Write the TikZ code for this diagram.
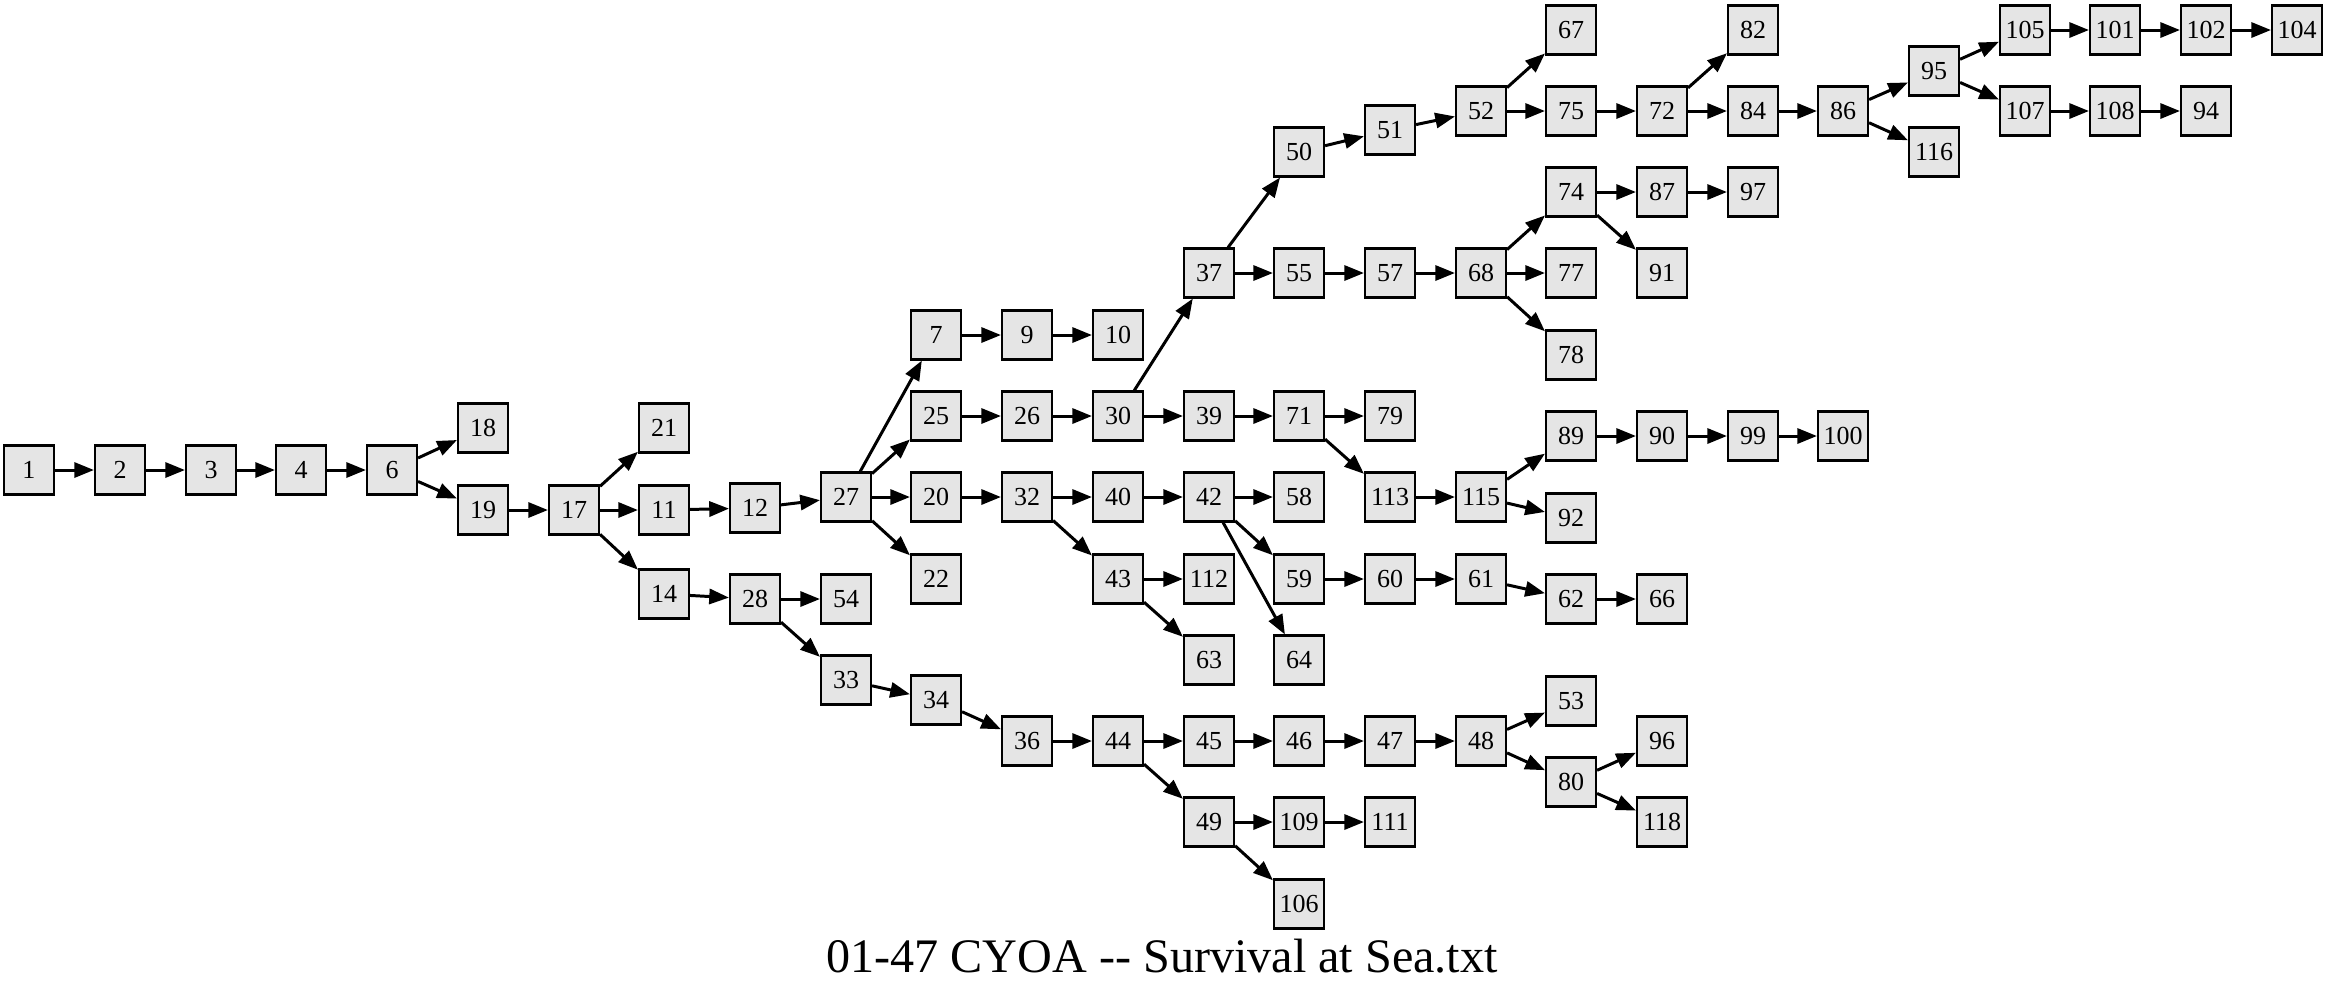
\documentclass[tikz,border=0pt]{standalone}
\usepackage{fontspec}
\setmainfont{Liberation Serif}
\usetikzlibrary{arrows.meta}

\begin{document}
\begin{tikzpicture}[
        box/.style={draw, line width=0.6pt, fill=black!10, minimum width=0.5cm, minimum height=0.49cm, inner sep=0pt, font=\fontsize{7.4}{8}\selectfont},
        link/.style={-{Triangle[length=5.6pt,width=4.3pt]}, line width=0.85pt}
    ]
        \useasboundingbox (0,0) rectangle (23.25,-9.92);
        \node[box] (n1) at (0.29,-4.70) {1};
        \node[box] (n2) at (1.20,-4.70) {2};
        \node[box] (n3) at (2.11,-4.70) {3};
        \node[box] (n4) at (3.01,-4.70) {4};
        \node[box] (n6) at (3.92,-4.70) {6};
        \node[box] (n18) at (4.83,-4.28) {18};
        \node[box] (n19) at (4.83,-5.10) {19};
        \node[box] (n17) at (5.74,-5.10) {17};
        \node[box] (n21) at (6.64,-4.28) {21};
        \node[box] (n11) at (6.64,-5.10) {11};
        \node[box] (n14) at (6.64,-5.94) {14};
        \node[box] (n12) at (7.55,-5.08) {12};
        \node[box] (n28) at (7.55,-5.99) {28};
        \node[box] (n27) at (8.46,-4.97) {27};
        \node[box] (n54) at (8.46,-5.99) {54};
        \node[box] (n33) at (8.46,-6.80) {33};
        \node[box] (n7) at (9.36,-3.35) {7};
        \node[box] (n25) at (9.36,-4.16) {25};
        \node[box] (n20) at (9.36,-4.97) {20};
        \node[box] (n22) at (9.36,-5.79) {22};
        \node[box] (n34) at (9.36,-7.00) {34};
        \node[box] (n9) at (10.27,-3.35) {9};
        \node[box] (n26) at (10.27,-4.16) {26};
        \node[box] (n32) at (10.27,-4.97) {32};
        \node[box] (n36) at (10.27,-7.41) {36};
        \node[box] (n10) at (11.18,-3.35) {10};
        \node[box] (n30) at (11.18,-4.16) {30};
        \node[box] (n40) at (11.18,-4.97) {40};
        \node[box] (n43) at (11.18,-5.79) {43};
        \node[box] (n44) at (11.18,-7.41) {44};
        \node[box] (n37) at (12.09,-2.73) {37};
        \node[box] (n39) at (12.09,-4.16) {39};
        \node[box] (n42) at (12.09,-4.97) {42};
        \node[box] (n112) at (12.09,-5.79) {112};
        \node[box] (n63) at (12.09,-6.60) {63};
        \node[box] (n45) at (12.09,-7.41) {45};
        \node[box] (n49) at (12.09,-8.22) {49};
        \node[box] (n50) at (12.99,-1.52) {50};
        \node[box] (n55) at (12.99,-2.73) {55};
        \node[box] (n71) at (12.99,-4.16) {71};
        \node[box] (n58) at (12.99,-4.97) {58};
        \node[box] (n59) at (12.99,-5.79) {59};
        \node[box] (n64) at (12.99,-6.60) {64};
        \node[box] (n46) at (12.99,-7.41) {46};
        \node[box] (n109) at (12.99,-8.22) {109};
        \node[box] (n106) at (12.99,-9.04) {106};
        \node[box] (n51) at (13.90,-1.30) {51};
        \node[box] (n57) at (13.90,-2.73) {57};
        \node[box] (n79) at (13.90,-4.16) {79};
        \node[box] (n113) at (13.90,-4.97) {113};
        \node[box] (n60) at (13.90,-5.79) {60};
        \node[box] (n47) at (13.90,-7.41) {47};
        \node[box] (n111) at (13.90,-8.22) {111};
        \node[box] (n52) at (14.81,-1.11) {52};
        \node[box] (n68) at (14.81,-2.73) {68};
        \node[box] (n115) at (14.81,-4.97) {115};
        \node[box] (n61) at (14.81,-5.79) {61};
        \node[box] (n48) at (14.81,-7.41) {48};
        \node[box] (n67) at (15.71,-0.30) {67};
        \node[box] (n75) at (15.71,-1.11) {75};
        \node[box] (n74) at (15.71,-1.92) {74};
        \node[box] (n77) at (15.71,-2.73) {77};
        \node[box] (n78) at (15.71,-3.55) {78};
        \node[box] (n89) at (15.71,-4.36) {89};
        \node[box] (n92) at (15.71,-5.18) {92};
        \node[box] (n62) at (15.71,-5.99) {62};
        \node[box] (n53) at (15.71,-7.01) {53};
        \node[box] (n80) at (15.71,-7.82) {80};
        \node[box] (n72) at (16.62,-1.11) {72};
        \node[box] (n87) at (16.62,-1.92) {87};
        \node[box] (n91) at (16.62,-2.73) {91};
        \node[box] (n90) at (16.62,-4.36) {90};
        \node[box] (n66) at (16.62,-5.99) {66};
        \node[box] (n96) at (16.62,-7.41) {96};
        \node[box] (n118) at (16.62,-8.22) {118};
        \node[box] (n82) at (17.53,-0.30) {82};
        \node[box] (n84) at (17.53,-1.11) {84};
        \node[box] (n97) at (17.53,-1.92) {97};
        \node[box] (n99) at (17.53,-4.36) {99};
        \node[box] (n86) at (18.43,-1.11) {86};
        \node[box] (n100) at (18.43,-4.36) {100};
        \node[box] (n95) at (19.34,-0.71) {95};
        \node[box] (n116) at (19.34,-1.52) {116};
        \node[box] (n105) at (20.25,-0.30) {105};
        \node[box] (n107) at (20.25,-1.11) {107};
        \node[box] (n101) at (21.15,-0.30) {101};
        \node[box] (n108) at (21.15,-1.11) {108};
        \node[box] (n102) at (22.06,-0.30) {102};
        \node[box] (n94) at (22.06,-1.11) {94};
        \node[box] (n104) at (22.97,-0.30) {104};
        \draw[link] (n1) to (n2);
        \draw[link] (n2) to (n3);
        \draw[link] (n3) to (n4);
        \draw[link] (n4) to (n6);
        \draw[link] (n6) to (n18);
        \draw[link] (n6) to (n19);
        \draw[link] (n19) to (n17);
        \draw[link] (n17) to (n21);
        \draw[link] (n17) to (n11);
        \draw[link] (n17) to (n14);
        \draw[link] (n11) to (n12);
        \draw[link] (n12) to (n27);
        \draw[link] (n14) to (n28);
        \draw[link] (n28) to (n54);
        \draw[link] (n28) to (n33);
        \draw[link] (n33) to (n34);
        \draw[link] (n34) to (n36);
        \draw[link] (n27) to (n7);
        \draw[link] (n27) to (n25);
        \draw[link] (n27) to (n20);
        \draw[link] (n27) to (n22);
        \draw[link] (n7) to (n9);
        \draw[link] (n9) to (n10);
        \draw[link] (n25) to (n26);
        \draw[link] (n26) to (n30);
        \draw[link] (n30) to (n37);
        \draw[link] (n30) to (n39);
        \draw[link] (n39) to (n71);
        \draw[link] (n71) to (n79);
        \draw[link] (n71) to (n113);
        \draw[link] (n113) to (n115);
        \draw[link] (n115) to (n89);
        \draw[link] (n115) to (n92);
        \draw[link] (n89) to (n90);
        \draw[link] (n90) to (n99);
        \draw[link] (n99) to (n100);
        \draw[link] (n20) to (n32);
        \draw[link] (n32) to (n40);
        \draw[link] (n32) to (n43);
        \draw[link] (n40) to (n42);
        \draw[link] (n42) to (n58);
        \draw[link] (n42) to (n59);
        \draw[link] (n42) to (n64);
        \draw[link] (n43) to (n112);
        \draw[link] (n43) to (n63);
        \draw[link] (n59) to (n60);
        \draw[link] (n60) to (n61);
        \draw[link] (n61) to (n62);
        \draw[link] (n62) to (n66);
        \draw[link] (n36) to (n44);
        \draw[link] (n44) to (n45);
        \draw[link] (n44) to (n49);
        \draw[link] (n45) to (n46);
        \draw[link] (n46) to (n47);
        \draw[link] (n47) to (n48);
        \draw[link] (n48) to (n53);
        \draw[link] (n48) to (n80);
        \draw[link] (n80) to (n96);
        \draw[link] (n80) to (n118);
        \draw[link] (n49) to (n109);
        \draw[link] (n49) to (n106);
        \draw[link] (n109) to (n111);
        \draw[link] (n37) to (n50);
        \draw[link] (n37) to (n55);
        \draw[link] (n50) to (n51);
        \draw[link] (n51) to (n52);
        \draw[link] (n52) to (n67);
        \draw[link] (n52) to (n75);
        \draw[link] (n75) to (n72);
        \draw[link] (n72) to (n82);
        \draw[link] (n72) to (n84);
        \draw[link] (n84) to (n86);
        \draw[link] (n86) to (n95);
        \draw[link] (n86) to (n116);
        \draw[link] (n95) to (n105);
        \draw[link] (n95) to (n107);
        \draw[link] (n105) to (n101);
        \draw[link] (n101) to (n102);
        \draw[link] (n102) to (n104);
        \draw[link] (n107) to (n108);
        \draw[link] (n108) to (n94);
        \draw[link] (n55) to (n57);
        \draw[link] (n57) to (n68);
        \draw[link] (n68) to (n74);
        \draw[link] (n68) to (n77);
        \draw[link] (n68) to (n78);
        \draw[link] (n74) to (n87);
        \draw[link] (n74) to (n91);
        \draw[link] (n87) to (n97);
        \node[anchor=base, font=\fontsize{13.7}{16}\selectfont] (title) at (11.62,-9.72) {01-47 CYOA -{}- Survival at Sea.txt};
    \end{tikzpicture}
\end{document}
